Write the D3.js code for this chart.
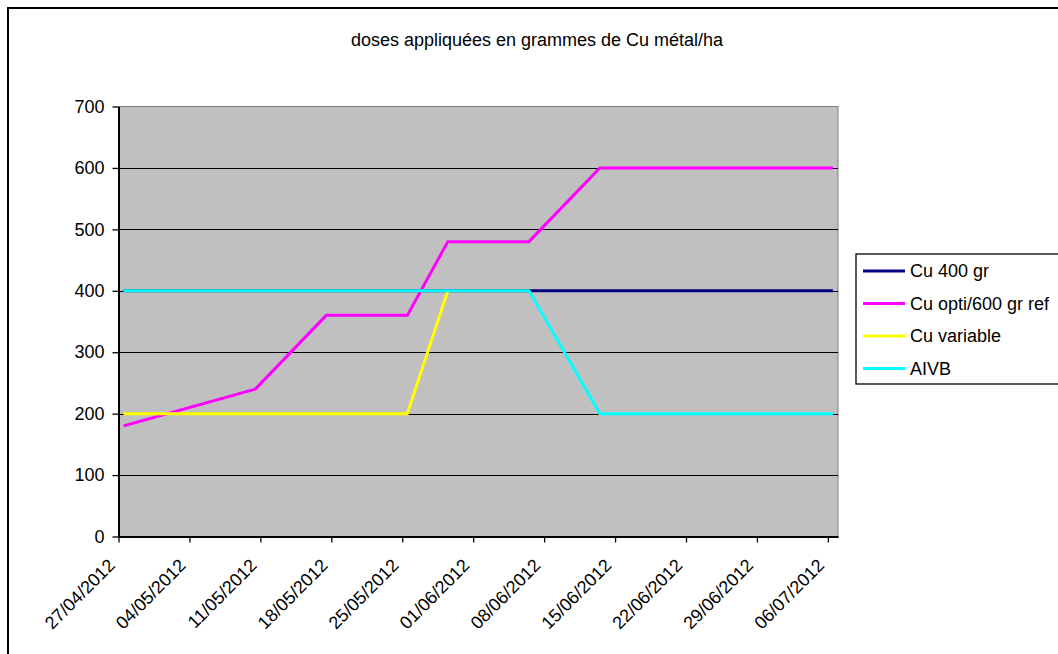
<!DOCTYPE html>
<html>
<head>
<meta charset="utf-8">
<script src="https://cdn.jsdelivr.net/npm/d3@7"></script>
<style>
  html, body { margin: 0; padding: 0; background: #fff; }
  svg { display: block; font-family: "Liberation Sans", Arial, sans-serif; }
</style>
</head>
<body>
<svg id="chart" width="1058" height="654"></svg>
<script>
// Application dates (dd/mm/yyyy) and copper doses in g Cu metal / ha
const dates = ["27/04/2012", "10/05/2012", "17/05/2012", "25/05/2012", "29/05/2012", "06/06/2012", "13/06/2012", "06/07/2012"];
const cu400      = [400, 400, 400, 400, 400, 400, 400, 400];
const cuOpti600  = [180, 240, 360, 360, 480, 480, 600, 600];
const cuVariable = [200, 200, 200, 200, 400, null, null, null];
const aivb       = [400, 400, 400, 400, 400, 400, 200, 200];

const seriesNames  = ["Cu 400 gr", "Cu opti/600 gr ref", "Cu variable", "AIVB"];
const seriesColors = ["#000080", "#FF00FF", "#FFFF00", "#00FFFF"];
const seriesValues = [cu400, cuOpti600, cuVariable, aivb];

const xTickLabels = ["27/04/2012", "04/05/2012", "11/05/2012", "18/05/2012", "25/05/2012", "01/06/2012",
                     "08/06/2012", "15/06/2012", "22/06/2012", "29/06/2012", "06/07/2012"];
const yTicks = [0, 100, 200, 300, 400, 500, 600, 700];
const titleText = "doses appliquées en grammes de Cu métal/ha";

const parse = d3.utcParse("%d/%m/%Y");
const svg = d3.select("#chart");

// Outer chart frame
svg.append("rect").attr("x", 8).attr("y", 8).attr("width", 1100).attr("height", 700)
  .attr("fill", "#fff").attr("stroke", "#000").attr("stroke-width", 2);

const plot = { left: 118.5, right: 838, top: 106.5, bottom: 536.5 };

const x = d3.scaleUtc()
  .domain([parse("27/04/2012"), parse("07/07/2012")])
  .range([plot.left, plot.right]);
const y = d3.scaleLinear().domain([0, 700]).range([plot.bottom, plot.top]);

// each value sits in the middle of its day slot
const xMid = d => x(d3.utcHour.offset(d, 12));

// Plot background
svg.append("rect")
  .attr("x", plot.left).attr("y", plot.top)
  .attr("width", plot.right - plot.left).attr("height", plot.bottom - plot.top)
  .attr("fill", "#C0C0C0").attr("stroke", "#808080").attr("stroke-width", 1);

// Horizontal gridlines
svg.append("g").selectAll("line")
  .data(yTicks.filter(v => v > 0 && v < 700))
  .join("line")
  .attr("x1", plot.left).attr("x2", plot.right)
  .attr("y1", d => Math.round(y(d)) + 0.5).attr("y2", d => Math.round(y(d)) + 0.5)
  .attr("stroke", "#000").attr("stroke-width", 1);

// Y axis
const yAxis = svg.append("g")
  .attr("transform", `translate(${plot.left},0)`)
  .call(d3.axisLeft(y).tickValues(yTicks).tickSize(6).tickSizeOuter(0).tickPadding(8));
yAxis.select(".domain").attr("stroke", "#000").attr("stroke-width", 2);
yAxis.selectAll(".tick line").attr("stroke", "#000").attr("stroke-width", 1.3);
yAxis.selectAll(".tick text").attr("font-size", 18).attr("fill", "#000")
  .attr("font-family", "Liberation Sans, Arial, sans-serif");

// X axis
const xAxis = svg.append("g")
  .attr("transform", `translate(0,${plot.bottom})`)
  .call(d3.axisBottom(x)
    .tickValues(xTickLabels.map(parse))
    .tickSize(6).tickSizeOuter(0)
    .tickFormat(d3.utcFormat("%d/%m/%Y")));
xAxis.select(".domain").attr("stroke", "#000").attr("stroke-width", 2);
xAxis.selectAll(".tick line").attr("stroke", "#000").attr("stroke-width", 1.3);
xAxis.selectAll(".tick text")
  .attr("font-size", 18).attr("fill", "#000")
  .attr("font-family", "Liberation Sans, Arial, sans-serif")
  .attr("text-anchor", "end")
  .attr("dy", null)
  .attr("y", null)
  .attr("transform", "translate(-3,30) rotate(-45)");

// Series lines
const line = d3.line()
  .defined(d => d.v != null)
  .x(d => xMid(d.date))
  .y(d => y(d.v));

seriesValues.forEach((vals, i) => {
  const pts = dates.map((s, j) => ({ date: parse(s), v: vals[j] }));
  svg.append("path")
    .datum(pts)
    .attr("fill", "none")
    .attr("stroke", seriesColors[i])
    .attr("stroke-width", 3)
    .attr("stroke-linejoin", "miter")
    .attr("d", line);
});

// Title
svg.append("text")
  .attr("x", 537).attr("y", 46)
  .attr("text-anchor", "middle")
  .attr("font-size", 18).attr("fill", "#000")
  .text(titleText);

// Legend
const legend = svg.append("g");
legend.append("rect")
  .attr("x", 856).attr("y", 254).attr("width", 250).attr("height", 130)
  .attr("fill", "#fff").attr("stroke", "#000").attr("stroke-width", 1.3);
seriesNames.forEach((name, i) => {
  const cy = 271 + i * 32.5;
  legend.append("line")
    .attr("x1", 863).attr("x2", 905).attr("y1", cy).attr("y2", cy)
    .attr("stroke", seriesColors[i]).attr("stroke-width", 3);
  legend.append("text")
    .attr("x", 910).attr("y", cy).attr("dy", "0.35em")
    .attr("font-size", 18).attr("fill", "#000")
    .text(name);
});
</script>
</body>
</html>
